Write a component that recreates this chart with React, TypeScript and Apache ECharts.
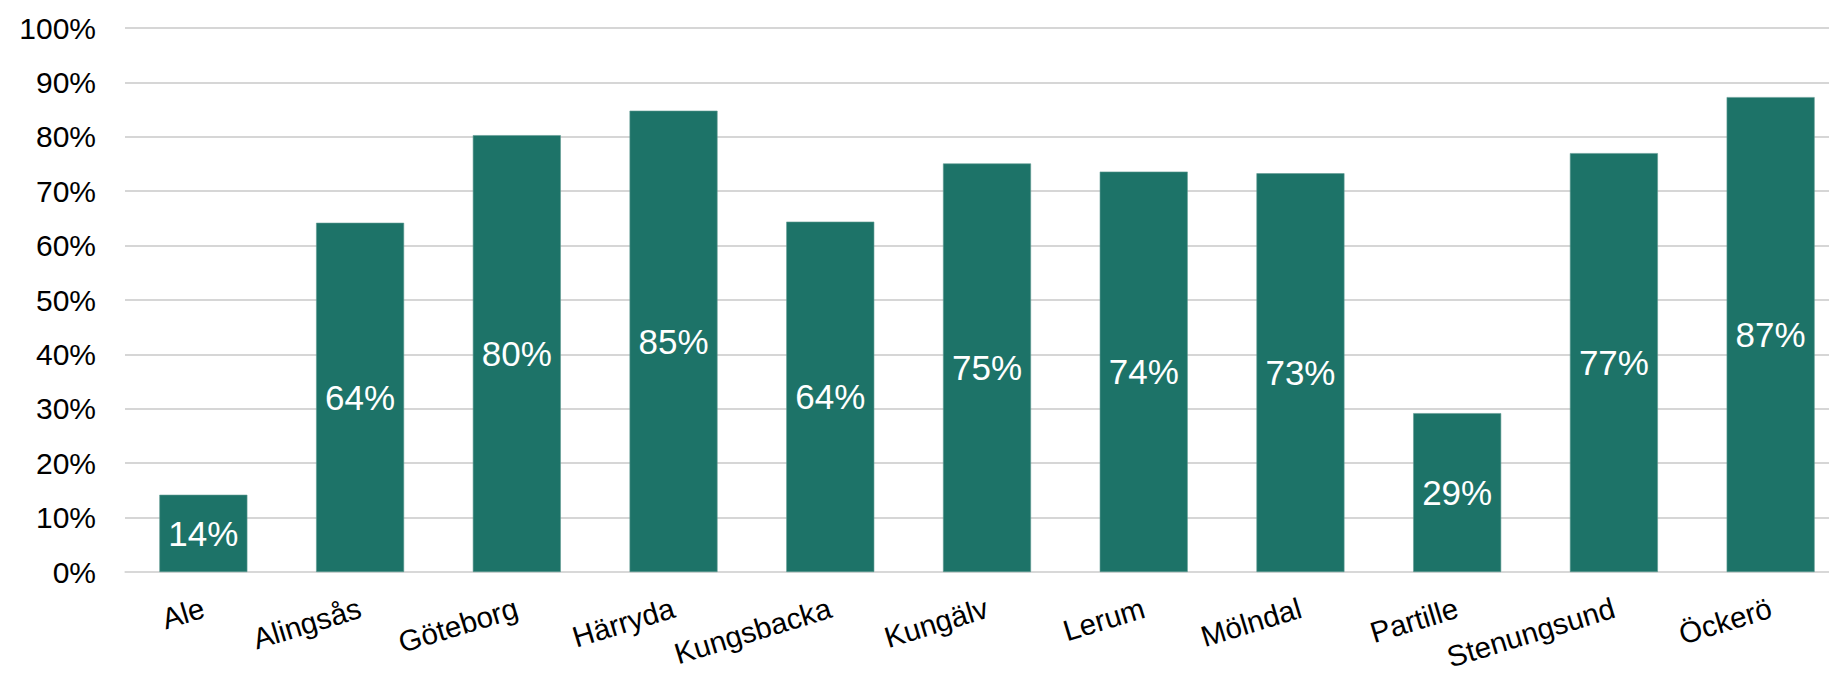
import React, { useEffect, useRef } from "react";
import * as echarts from "echarts";

const categories = [
  "Ale",
  "Alingsås",
  "Göteborg",
  "Härryda",
  "Kungsbacka",
  "Kungälv",
  "Lerum",
  "Mölndal",
  "Partille",
  "Stenungsund",
  "Öckerö",
];

const shares = [14.2, 64.2, 80.3, 84.8, 64.4, 75.1, 73.6, 73.3, 29.2, 77.0, 87.3];

const yTicks = { min: 0, max: 100, interval: 10 };

export default function App() {
  const ref = useRef<HTMLDivElement>(null);

  useEffect(() => {
    if (!ref.current) return;
    const chart = echarts.init(ref.current, null, { renderer: "svg" });
    const font = "'Liberation Sans', Arial, sans-serif";
    chart.setOption({
      animation: false,
      backgroundColor: "#ffffff",
      grid: {
        left: 125,
        top: 28,
        width: 1724,
        height: 544,
        containLabel: false,
        outerBoundsMode: "none",
      },
      xAxis: {
        type: "category",
        data: categories,
        axisTick: { show: false },
        axisLine: { lineStyle: { color: "#d9d9d9", width: 1.5 } },
        axisLabel: {
          rotate: 17,
          margin: 35,
          color: "#000000",
          fontSize: 29.5,
          fontFamily: font,
          interval: 0,
        },
      },
      yAxis: {
        type: "value",
        min: yTicks.min,
        max: yTicks.max,
        interval: yTicks.interval,
        axisLine: { show: false },
        axisTick: { show: false },
        splitLine: { lineStyle: { color: "#c8c8c8", width: 1.5 } },
        axisLabel: {
          formatter: "{value}%",
          margin: 29,
          color: "#000000",
          fontSize: 30,
          fontFamily: font,
        },
      },
      series: [
        {
          type: "bar",
          data: shares,
          barWidth: 88,
          itemStyle: { color: "#1d7368", borderColor: "#5f9a92", borderWidth: 0.6 },
          label: {
            show: true,
            position: "inside",
            color: "#ffffff",
            fontSize: 35,
            fontFamily: font,
            formatter: (p: any) => Math.round(p.value) + "%",
          },
        },
      ],
    });
    return () => chart.dispose();
  }, []);

  return (
    <div
      ref={ref}
      style={{ position: "absolute", left: 0, top: 0, width: 1829, height: 677 }}
    />
  );
}
